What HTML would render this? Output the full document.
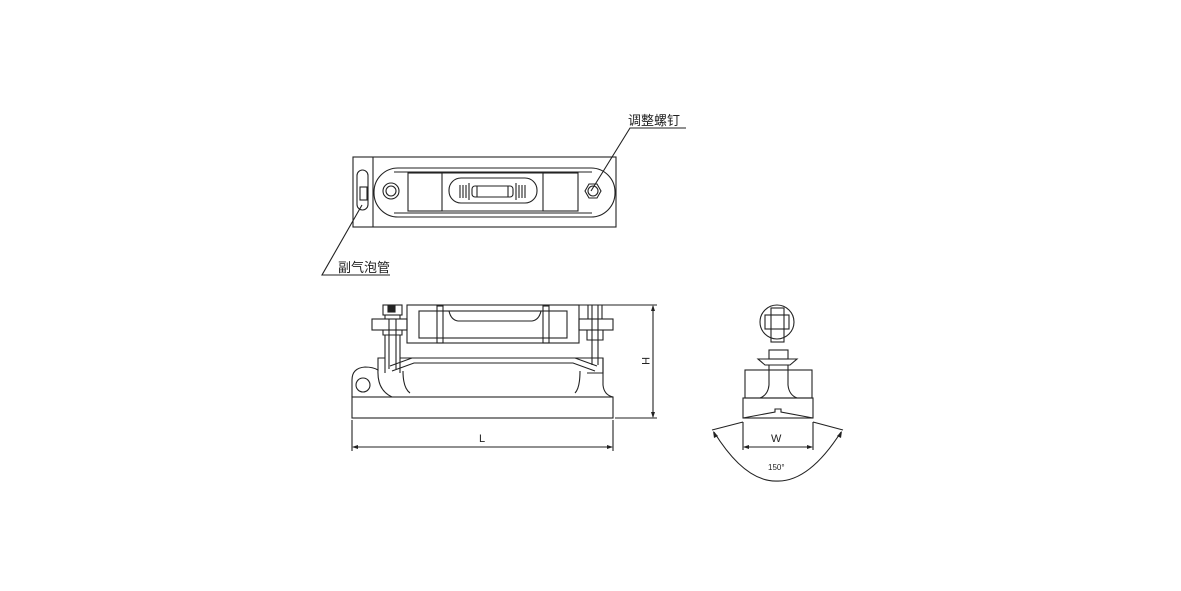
<!DOCTYPE html>
<html><head><meta charset="utf-8"><style>
html,body{margin:0;padding:0;background:#fff;width:1181px;height:591px;overflow:hidden}
svg text{font-family:"Liberation Sans","Noto Sans CJK SC",sans-serif;fill:#222}
</style></head><body>
<svg width="1181" height="591" viewBox="0 0 1181 591" xmlns="http://www.w3.org/2000/svg">
<g fill="none" stroke="#222" stroke-width="1.1">
<!-- TOP VIEW -->
<rect x="353" y="157" width="263" height="70"/>
<line x1="373" y1="157" x2="373" y2="227"/>
<rect x="357" y="170" width="11" height="40" rx="5.5"/>
<rect x="360" y="187" width="7" height="13"/>
<rect x="374" y="168" width="241" height="49" rx="24"/>
<line x1="394" y1="172" x2="592" y2="172"/>
<line x1="394" y1="213" x2="592" y2="213"/>
<rect x="408" y="173" width="34" height="38"/>
<rect x="543" y="173" width="35" height="38"/>
<line x1="442" y1="173" x2="543" y2="173"/>
<line x1="442" y1="211" x2="543" y2="211"/>
<rect x="449" y="178" width="88" height="25" rx="12"/>
<rect x="472" y="186" width="41" height="11" rx="3"/>
<line x1="477" y1="186" x2="477" y2="197"/><line x1="508" y1="186" x2="508" y2="197"/>
<path d="M460 185v13M463 185v13M466 185v13M469 183v17M516 183v17M519 185v13M522 185v13M525 185v13"/>
<circle cx="391" cy="191" r="8"/><circle cx="391" cy="191" r="5"/>
<polygon points="601,191 597,198 589,198 585,191 589,184 597,184"/>
<circle cx="593" cy="191" r="5"/>
<polyline points="591,191 630,128 686,128"/>
<polyline points="362,205 322,275 390,275"/>
<!-- FRONT VIEW -->
<rect x="352" y="397" width="261" height="21"/>
<line x1="352" y1="420" x2="352" y2="451"/><line x1="613" y1="420" x2="613" y2="451"/>
<line x1="353" y1="447" x2="612" y2="447"/>
<line x1="579" y1="305" x2="657" y2="305"/><line x1="615" y1="418" x2="657" y2="418"/>
<line x1="653" y1="306" x2="653" y2="417"/>
<rect x="407" y="305" width="172" height="38"/>
<rect x="419" y="311" width="148" height="27"/>
<rect x="437" y="306" width="6" height="37"/><rect x="543" y="306" width="6" height="37"/>
<path d="M449 311 Q451 320 458 321 L532 321 Q539 320 541 311"/>
<rect x="372" y="319" width="35" height="11"/>
<rect x="579" y="319" width="34" height="11"/>
<rect x="383" y="305" width="19" height="10"/>
<rect x="388" y="306" width="7" height="6" fill="#222"/>
<path d="M385 315v4M400 315v4M383 330h19v5h-19zM385 335v38M400 335v38M389 319v50M396 319v50"/>
<path d="M588 305h14v14M588 305v14M592 305v60M598 305v60M587 330h16v10h-16zM587 358h16v15h-16"/>
<path d="M352 397 V380 Q352 368 365 367 Q373 367 378 370 V358 H385 M400 358 H587 M603 358 V385 Q604 395 613 397"/>
<path d="M378 370 Q377 390 392 397"/>
<circle cx="363" cy="385" r="7"/>
<path d="M392 371 L414 363 L573 363 L595 371"/>
<path d="M390 366 L412 358 L575 358 L597 366"/>
<path d="M403 371 Q403 388 410 393 M580 371 Q580 388 575 393"/>
<!-- SIDE VIEW -->
<circle cx="777" cy="322" r="17"/>
<rect x="771" y="308" width="13" height="34"/>
<rect x="765" y="315" width="24" height="14"/>
<rect x="769" y="350" width="19" height="9"/>
<path d="M758 359 H797 L790 365 H765 Z"/>
<rect x="745" y="370" width="67" height="28"/>
<path d="M769 365 V385 Q768 395 760 398 M788 365 V385 Q789 395 797 398"/>
<rect x="743" y="398" width="70" height="20"/>
<path d="M743 418 L775 412 V409 H781 V412 L813 418"/>
<line x1="743" y1="422" x2="743" y2="450"/><line x1="813" y1="422" x2="813" y2="450"/>
<line x1="744" y1="447" x2="812" y2="447"/>
<line x1="743" y1="422" x2="712" y2="430"/><line x1="813" y1="422" x2="843" y2="430"/>
<path d="M714 432 Q745 482 777 481 Q809 482 841 432"/>
</g>
<g fill="#222">
<polygon points="352,447 358,445 358,449"/><polygon points="613,447 607,445 607,449"/>
<polygon points="653,305 651,311 655,311"/><polygon points="653,418 651,412 655,412"/>
<polygon points="743,447 749,445 749,449"/><polygon points="813,447 807,445 807,449"/>
<polygon points="713,431 714,438 718,436"/><polygon points="842,431 841,438 837,436"/>
</g>
<text x="628" y="125" font-size="13">调整螺钉</text>
<text x="338" y="272" font-size="13">副气泡管</text>
<text x="479" y="442" font-size="11">L</text>
<text x="0" y="0" font-size="11" transform="translate(642,357) rotate(90)">H</text>
<text x="771" y="442" font-size="11">W</text>
<text x="768" y="470" font-size="8">150°</text>
</svg>
</body></html>
